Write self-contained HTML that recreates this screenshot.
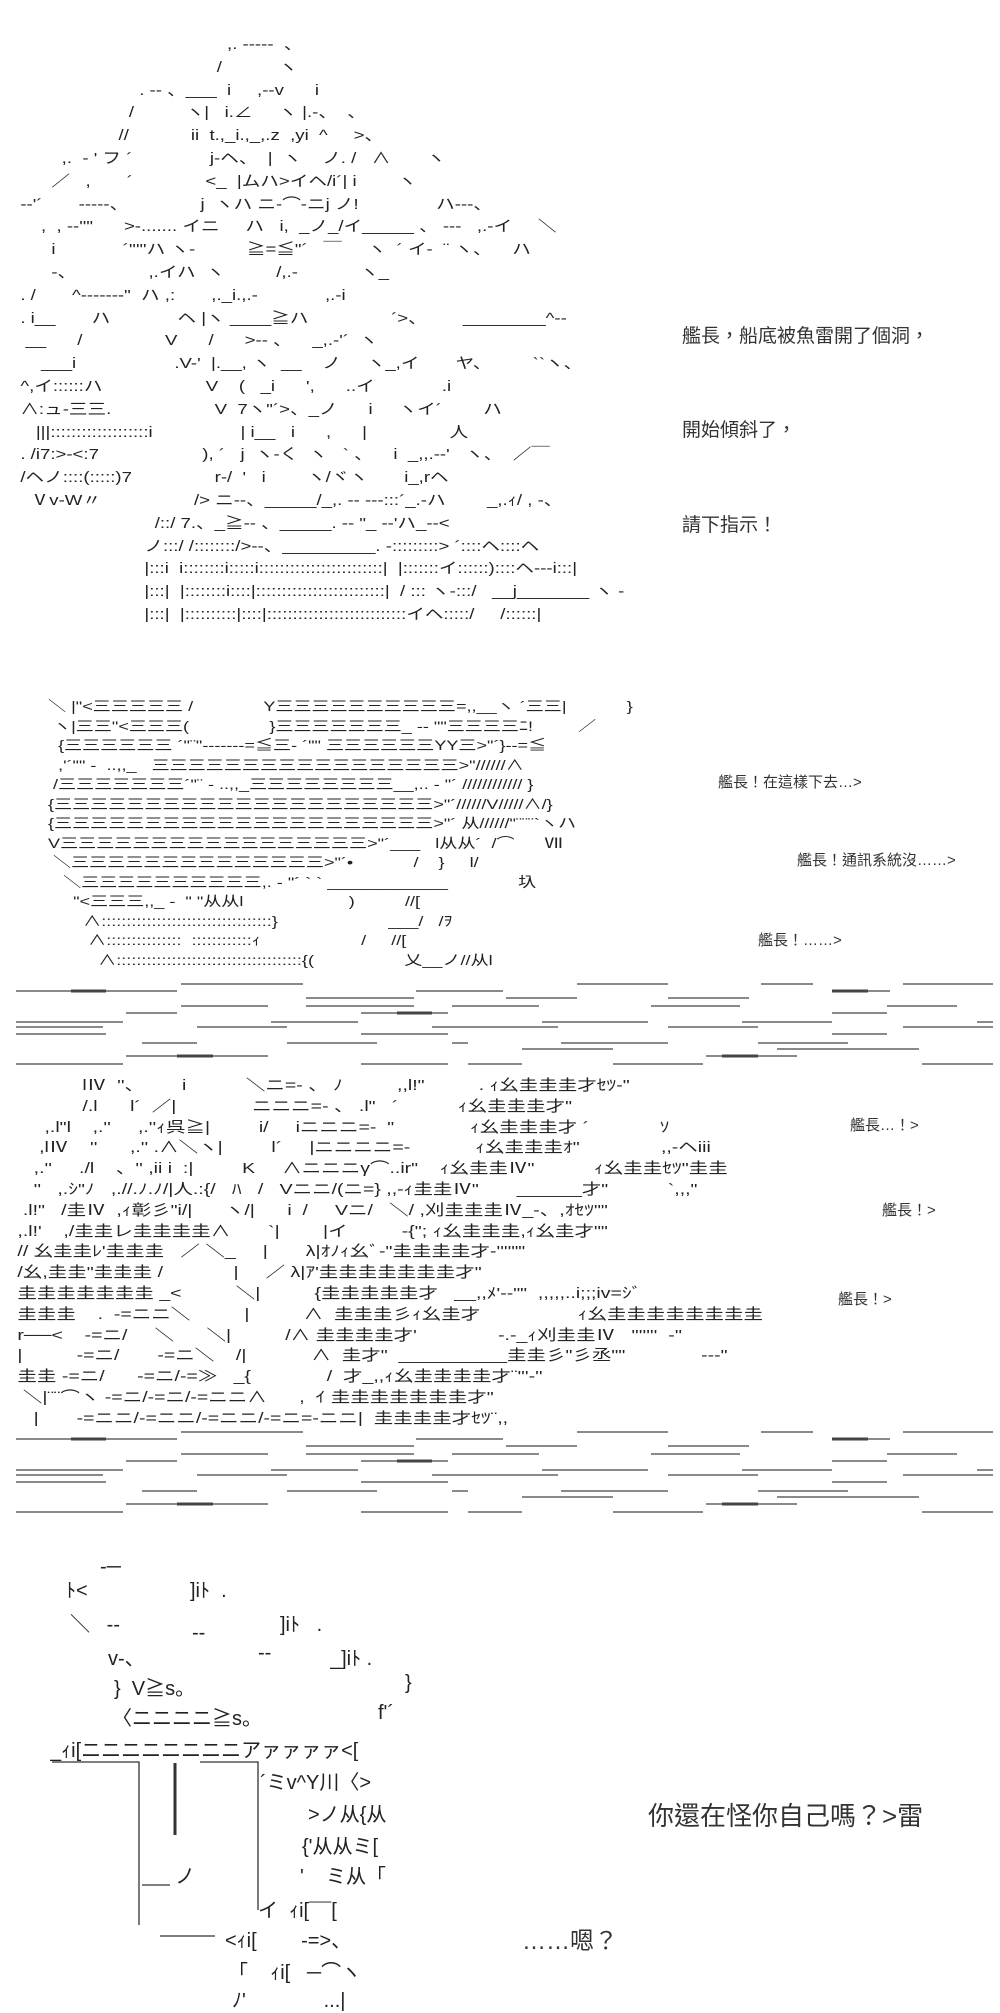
<!DOCTYPE html>
<html><head><meta charset="utf-8">
<style>
html,body{margin:0;padding:0;background:#fff;}
body{width:1000px;height:2000px;position:relative;overflow:hidden;font-family:"Liberation Sans","Noto Sans CJK TC","Noto Sans CJK JP",sans-serif;color:#222;}
.art{position:absolute;white-space:pre;font-family:"Liberation Sans","Noto Sans CJK JP",sans-serif;color:#222;overflow:hidden;margin:0;transform-origin:0 0;}
.lb{position:absolute;white-space:nowrap;color:#333;}
svg{position:absolute;left:0;top:0;}
</style></head><body>

<pre class="art" style="left:10px;top:34px;width:520px;height:620px;font-size:15px;line-height:22.8px;transform:scaleX(1.24);">                                          ,. -----  、
                                        /           ヽ
                         . -‐ 、___  i     ,--v      i
                       /          ヽ|   i.∠     ヽ |.-、  、
                     //            ii  t.,_i.,_,.z  ,yi  ^     >、
          ,.  ‐ ' フ ´               j-ヘ、  |  ヽ    ノ. /   ∧       ヽ
        ／   ,       ´              <_  |ムハ>イヘ/i´| i        ヽ
  -‐'´       -----、              j  ヽハ ニ‐⌒‐ニj ノ!               ハ‐‐-、
      ,  , -‐''"      >-....... イニ     ハ   i,  _ノ_/イ_____ 、 ---   ,.-イ     ＼
        i             ´'''''ハ ヽ-          ≧=≦"´   ￣     ヽ  ´ イ‐  ¨ ヽ、    ハ
        -、              ,.イハ  ヽ          /,.-            ヽ_
  . /       ^‐-----‐"  ハ ,:       ,._i.,.-             ,.‐i
  . i__       ハ             ヘ |ヽ ____≧ハ                ´>、       ________^‐‐
   __      /                V      /      >-- 、    _,.-'´  ヽ
      ___i                   .V-'  |.__, ヽ  __    ノ     ヽ_,イ       ヤ、        ``ヽ、
  ^,イ::::::ハ                    V    (   _i      ',      ..イ             .i
  ∧:ュ-三三.                    V  7ヽ"´>、_ノ      i     ヽイ´        ハ
     |||:::::::::::::::::::i                 | i__   i      ,      |                人
  . /i7:>-<:7                    ), ´   j  ヽ-く  ヽ   ` 、    i  _,,.-‐'   ヽ、  ／￣
  /ヘノ::::(:::::)7                r-/  '   i        ヽ/ヾヽ       i_,rヘ
    Ⅴv-W〃                  /> ニ‐-、_____/_,. -- ‐‐-:::´_.-ハ        _,.ｨ/ , -、
                            /::/ 7.、_≧-‐ 、_____. -‐ "_ -‐'ハ_‐-<
                          ノ:::/ /::::::::/>--、_________. -:::::::::> ´::::ヘ::::ヘ
                          |:::i  i::::::::i:::::i::::::::::::::::::::::::|  |:::::::イ::::::)::::ヘ‐‐-i:::|
                          |:::|  |::::::::i::::|:::::::::::::::::::::::::|  / ::: ヽ-:::/   __j_______ ヽ -
                          |:::|  |::::::::::|::::|:::::::::::::::::::::::::::イヘ:::::/     /::::::|</pre>

<div class="lb" style="left:682px;top:321px;font-size:19px;">艦長，船底被魚雷開了個洞，</div>
<div class="lb" style="left:682px;top:415px;font-size:19px;">開始傾斜了，</div>
<div class="lb" style="left:682px;top:510px;font-size:19px;">請下指示！</div>

<pre class="art" style="left:38px;top:697px;width:480px;height:280px;font-size:14px;line-height:19.5px;transform:scaleX(1.29);">  ＼ |"&lt;三三三三三 /              Y三三三三三三三三三三=,,__ヽ ´三三|            }
   ヽ|三三"&lt;三三三(                }三三三三三三三_ -‐ ""三三三三ﾆ!         ／
    {三三三三三三 ´"¨"‐------=≦三‐ ´"" 三三三三三三YY三>"´}‐-=≦
    ,'´"" ‐  ..,,_   三三三三三三三三三三三三三三三三三>"//////∧
   /三三三三三三三´"¨ ‐ ..,,_三三三三三三三三__,.. ‐ "´ //////////// }
  {三三三三三三三三三三三三三三三三三三三三三>"´//////V/////∧/}
  {三三三三三三三三三三三三三三三三三三三三三>"´ 从//////"¨¨¨`ヽハ
  V三三三三三三三三三三三三三三三三三>"´___   l从从´  /⌒      Ⅶ
   ＼三三三三三三三三三三三三三三>"´•            /    }     l/
     ＼三三三三三三三三三三,. ‐ "´ ` ` ____________              圦
       "&lt;三三三,,_ ‐  " "从从l                     )          //[
         ∧::::::::::::::::::::::::::::::::::}                      ___/   /ｦ
          ∧:::::::::::::::  ::::::::::::ｨ                    /     //[
            ∧:::::::::::::::::::::::::::::::::::::{(                  乂__ノ//从l</pre>

<div class="lb" style="left:718px;top:771px;font-size:15px;">艦長！在這樣下去…&gt;</div>
<div class="lb" style="left:797px;top:849px;font-size:15px;">艦長！通訊系統沒……&gt;</div>
<div class="lb" style="left:758px;top:929px;font-size:15px;">艦長！……&gt;</div>

<svg width="1000" height="2000" viewBox="0 0 1000 2000">
<g stroke="#444" stroke-width="1.3" fill="none" id="band">
<path d="M181 984H303M577 984H668M761 984H813M903 984H993
M16 991H177M416 991H503M832 991H890
M306 998H414M506 998H577M668 998H749
M181 1006H268M306 1006H414M452 1006H539M651 1006H740M887 1006H957
M126 1013H177M361 1013H448M832 1013H887
M16 1022H123M271 1022H358M542 1022H648M742 1022H832M977 1022H993
M16 1027H103M197 1027H287M432 1027H558M668 1027H758M903 1027H993
M16 1034H106M361 1034H448M832 1034H887
M142 1043H197M287 1043H377M452 1043H468M561 1043H668M758 1043H848
M522 1049H613M777 1049H919
M126 1056H268M706 1056H797
M16 1064H123M361 1064H448M468 1064H522M613 1064H703M922 1064H993"/>
<path stroke-width="3" d="M71 991H106M397 1013H432M177 1056H213M722 1056H758M832 991H868"/>
</g>
<use href="#band" transform="translate(0,448)"/>
<g stroke="#333" stroke-width="1.3" fill="none">
<path d="M52 1762H139V1925"/>
<path d="M200 1762H258V1910"/>
<path d="M175 1763V1835" stroke-width="3"/>
<path d="M142 1885H170"/>
<path d="M160 1936H215"/>
</g>
</svg>

<pre class="art" style="left:12px;top:1076px;width:615px;height:370px;font-size:15px;line-height:20.8px;transform:scaleX(1.3);">             lⅣ  ''、       i           ＼ニ=- 、 ﾉ          ,,l!"          . ｨ幺圭圭圭才ｾﾂ‐"
             /.l      l´  ／|              ニニニ=- 、 .l"   ´           ｨ幺圭圭圭才"
      ,.l"l    ,.''     ,.''ｨ呉≧|         i/     iニニニ=-  "              ｨ幺圭圭圭才 ´             ｿ
     ,lⅣ    ''      ,.'' .∧＼ヽ|         l´     |ニニニニ=-            ｨ幺圭圭圭ｵ"               ,,-ヘiii
    ,.''     ./l    、'' ,ii i  :|         K     ∧ニニニγ⌒..ir"    ｨ幺圭圭Ⅳ"           ｨ幺圭圭ｾﾂ"圭圭
    ''   ,.ｼ"ﾉ   ,.//.ﾉ.ﾉ/|人.:{/   ﾊ   /   Vニニ/(ニ=} ,,-ｨ圭圭Ⅳ"       ______才"           `,,,"
  .l!"   /圭Ⅳ  ,ｨ彰彡"i/|      ヽ/|      i  /     Vニ/   ＼/ ,刈圭圭圭Ⅳ_-、,ｵｾﾂ""
 ,.l!'    ,/圭圭レ圭圭圭圭∧       `|        |イ          -{"; ｨ幺圭圭圭,ｨ幺圭才""
 // 幺圭圭ﾚ'圭圭圭   ／ ＼_     |       λ|ｵﾉｨ幺ﾞ-"圭圭圭圭才-''''""
 /幺,圭圭"圭圭圭 /             |     ／ λ|ｱ'圭圭圭圭圭圭圭才"
 圭圭圭圭圭圭圭 _&lt;          ＼|          {圭圭圭圭圭才   __,,ﾒ'-‐""  ,,,,,..i;;;iv=ｼﾞ
 圭圭圭    .  -=ニニ＼          |          ∧  圭圭圭彡ｨ幺圭才                  ｨ幺圭圭圭圭圭圭圭圭
 r──&lt;    -=ニ/     ＼      ＼|          /∧ 圭圭圭圭才'               -.-_ｨ刈圭圭Ⅳ   '''''''  -''
 |          -=ニ/       -=ニ＼    /|            ∧  圭才"  __________圭圭彡"彡丞""              ---"
 圭圭 -=ニ/      -=ニ/-=≫   _{              /  才_,,ｨ幺圭圭圭圭才¨'''-''
  ＼|¨¨⌒ヽ -=ニ/-=ニ/-=ニニ∧      ,  ｲ 圭圭圭圭圭圭圭才"
    |       -=ニニ/-=ニニ/-=ニニ/-=ニ=-ニニ|  圭圭圭圭才ｾﾂ¨,,</pre>

<div class="lb" style="left:850px;top:1114px;font-size:15px;">艦長…！&gt;</div>
<div class="lb" style="left:882px;top:1199px;font-size:15px;">艦長！&gt;</div>
<div class="lb" style="left:838px;top:1288px;font-size:15px;">艦長！&gt;</div>

<div class="art" style="left:100px;top:1556px;font-size:20px;">‐─</div>
<div class="art" style="left:66px;top:1574px;font-size:20px;">ﾄ&lt;</div>
<div class="art" style="left:190px;top:1574px;font-size:20px;">]iﾄ  .</div>
<div class="art" style="left:70px;top:1608px;font-size:20px;">＼   --</div>
<div class="art" style="left:280px;top:1608px;font-size:20px;">]iﾄ   .</div>
<div class="art" style="left:192px;top:1622px;font-size:20px;">--</div>
<div class="art" style="left:108px;top:1642px;font-size:20px;">v-、</div>
<div class="art" style="left:258px;top:1642px;font-size:20px;">--</div>
<div class="art" style="left:330px;top:1642px;font-size:20px;">_]iﾄ .</div>
<div class="art" style="left:114px;top:1672px;font-size:20px;">}  V≧s。</div>
<div class="art" style="left:405px;top:1672px;font-size:20px;">}</div>
<div class="art" style="left:112px;top:1702px;font-size:20px;">〈ニニニニ≧s。</div>
<div class="art" style="left:378px;top:1702px;font-size:20px;">f'´</div>
<div class="art" style="left:50px;top:1734px;font-size:20px;">_ｨi[ニニニニニニニニアァァァァ&lt;[</div>
<div class="art" style="left:260px;top:1766px;font-size:20px;">´ミv^Y川〈&gt;</div>
<div class="art" style="left:308px;top:1798px;font-size:20px;">&gt;ノ从{从</div>
<div class="art" style="left:302px;top:1830px;font-size:20px;">{'从从ミ[</div>
<div class="art" style="left:175px;top:1860px;font-size:20px;">ノ</div>
<div class="art" style="left:300px;top:1860px;font-size:20px;">'    ミ从「</div>
<div class="art" style="left:258px;top:1894px;font-size:20px;">イ  ｨi[¯¯[</div>
<div class="art" style="left:225px;top:1924px;font-size:20px;">&lt;ｨi[        -=&gt;、</div>
<div class="art" style="left:228px;top:1956px;font-size:20px;">「    ｨi[   ─⌒ヽ</div>
<div class="art" style="left:232px;top:1984px;font-size:20px;">ﾉ'              ...|</div>

<div class="lb" style="left:648px;top:1796px;font-size:26px;">你還在怪你自己嗎？&gt;雷</div>
<div class="lb" style="left:522px;top:1921px;font-size:24px;">……嗯？</div>

</body></html>
